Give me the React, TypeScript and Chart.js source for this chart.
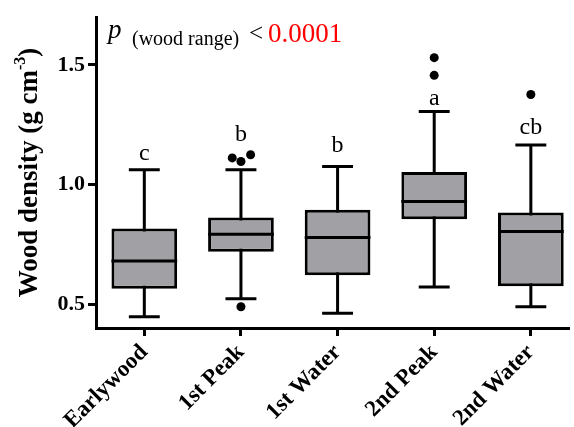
import React, { useEffect, useRef } from "react";
import { Chart, registerables } from "chart.js";

Chart.register(...registerables);

const SERIF = "'Liberation Serif', 'Times New Roman', serif";

const categories = ["Earlywood", "1st Peak", "1st Water", "2nd Peak", "2nd Water"];
const whiskerLow = [0.447, 0.522, 0.462, 0.571, 0.489];
const q1 = [0.564, 0.719, 0.62, 0.855, 0.575];
const median = [0.68, 0.792, 0.778, 0.929, 0.803];
const q3 = [0.816, 0.862, 0.894, 1.052, 0.883];
const whiskerHigh = [1.062, 1.062, 1.075, 1.305, 1.165];
const outlierX = [0.91, 1.0, 1.1, 1.0, 3.0, 3.0, 4.0];
const outlierValue = [1.111, 1.096, 1.124, 0.489, 1.53, 1.456, 1.376];
const groupLetters = ["c", "b", "b", "a", "cb"];
const letterValue = [1.101, 1.181, 1.134, 1.331, 1.21];
const yTicks = [0.5, 1.0, 1.5];

const boxPlugin = {
  id: "boxParts",
  beforeDatasetsDraw(chart: any) {
    const { ctx, scales } = chart;
    const x = scales.x;
    const y = scales.y;
    ctx.save();
    ctx.strokeStyle = "#000";
    ctx.lineWidth = 3;
    ctx.lineCap = "butt";
    categories.forEach((_, i) => {
      const px = x.getPixelForValue(i);
      const half = x.getPixelForValue(i + 0.16) - px;
      const lo = y.getPixelForValue(whiskerLow[i]);
      const hi = y.getPixelForValue(whiskerHigh[i]);
      ctx.beginPath();
      ctx.moveTo(px, lo);
      ctx.lineTo(px, hi);
      ctx.moveTo(px - half, lo);
      ctx.lineTo(px + half, lo);
      ctx.moveTo(px - half, hi);
      ctx.lineTo(px + half, hi);
      ctx.stroke();
    });
    ctx.restore();
  },
  afterDatasetsDraw(chart: any) {
    const { ctx, scales } = chart;
    const x = scales.x;
    const y = scales.y;
    const meta = chart.getDatasetMeta(0);
    ctx.save();
    ctx.strokeStyle = "#000";
    ctx.lineWidth = 3;
    categories.forEach((_, i) => {
      const bar = meta.data[i];
      const half = bar.width / 2;
      const px = x.getPixelForValue(i);
      const my = y.getPixelForValue(median[i]);
      ctx.beginPath();
      ctx.moveTo(px - half, my);
      ctx.lineTo(px + half, my);
      ctx.stroke();
    });
    ctx.fillStyle = "#000";
    ctx.font = `24px ${SERIF}`;
    ctx.textAlign = "center";
    ctx.textBaseline = "alphabetic";
    groupLetters.forEach((t, i) => {
      ctx.fillText(t, x.getPixelForValue(i), y.getPixelForValue(letterValue[i]));
    });
    ctx.restore();
  },
  afterDraw(chart: any) {
    const { ctx, chartArea } = chart;
    ctx.save();
    ctx.fillStyle = "#000";
    ctx.textAlign = "left";
    ctx.textBaseline = "alphabetic";
    // y axis title with superscript
    ctx.translate(37, (chartArea.top + chartArea.bottom) / 2);
    ctx.rotate(-Math.PI / 2);
    const main = "Wood density (g cm";
    ctx.font = `bold 27px ${SERIF}`;
    const w1 = ctx.measureText(main).width;
    ctx.font = `bold 16px ${SERIF}`;
    const w2 = ctx.measureText("-3").width;
    ctx.font = `bold 27px ${SERIF}`;
    const w3 = ctx.measureText(")").width;
    let x0 = -(w1 + w2 + w3) / 2;
    ctx.fillText(main, x0, 0);
    x0 += w1;
    ctx.font = `bold 16px ${SERIF}`;
    ctx.fillText("-3", x0, -12);
    x0 += w2;
    ctx.font = `bold 27px ${SERIF}`;
    ctx.fillText(")", x0, 0);
    ctx.restore();

    // p-value annotation
    ctx.save();
    ctx.textAlign = "left";
    ctx.textBaseline = "alphabetic";
    ctx.fillStyle = "#000";
    ctx.font = `italic 27px ${SERIF}`;
    ctx.fillText("p", 108, 38);
    ctx.font = `20px ${SERIF}`;
    ctx.fillText("(wood range)", 132, 45);
    ctx.font = `25px ${SERIF}`;
    ctx.fillText("<", 249, 41);
    ctx.fillStyle = "#ff0000";
    ctx.font = `27px ${SERIF}`;
    ctx.fillText("0.0001", 268, 42);
    ctx.restore();
  },
};

export default function App() {
  const ref = useRef<HTMLCanvasElement | null>(null);
  useEffect(() => {
    if (!ref.current) return;
    const chart = new Chart(ref.current, {
      type: "bar",
      data: {
        datasets: [
          {
            type: "bar",
            data: categories.map((_, i) => ({ x: i, y: [q1[i], q3[i]] })) as any,
            backgroundColor: "#a1a1a5",
            borderColor: "#000",
            borderWidth: 3,
            borderSkipped: false,
            barPercentage: 0.68,
            categoryPercentage: 1,
          } as any,
          {
            type: "scatter",
            data: outlierX.map((v, i) => ({ x: v, y: outlierValue[i] })),
            backgroundColor: "#000",
            borderWidth: 0,
            pointRadius: 4.5,
          } as any,
        ],
      },
      options: {
        responsive: false,
        animation: false,
        events: [],
        layout: { padding: { top: 17, left: 0, right: 0, bottom: 0 } },
        plugins: { legend: { display: false }, tooltip: { enabled: false } },
        scales: {
          x: {
            type: "linear",
            offset: false,
            min: -0.5,
            max: 4.4,
            afterBuildTicks: (s: any) => {
              s.ticks = categories.map((_, i) => ({ value: i }));
            },
            afterFit: (s: any) => {
              s.height = 99;
              s.paddingLeft = 0;
              s.paddingRight = 0;
            },
            ticks: {
              autoSkip: false,
              minRotation: 45,
              maxRotation: 45,
              color: "#000",
              padding: 3,
              font: { family: SERIF, size: 23, weight: "bold" },
              callback: (v: any) => categories[Math.round(Number(v))] ?? "",
            },
            grid: {
              offset: false,
              drawOnChartArea: false,
              drawTicks: true,
              tickLength: 8,
              tickWidth: 3,
              tickColor: "#000",
            },
            border: { display: true, color: "#000", width: 3 },
          },
          y: {
            type: "linear",
            min: 0.4,
            max: 1.7,
            afterBuildTicks: (s: any) => {
              s.ticks = yTicks.map((v) => ({ value: v }));
            },
            afterFit: (s: any) => {
              s.width = 96;
              s.paddingTop = 0;
              s.paddingBottom = 0;
            },
            ticks: {
              color: "#000",
              padding: 3,
              font: { family: SERIF, size: 22, weight: "bold" },
              callback: (v: any) => Number(v).toFixed(1),
            },
            grid: {
              drawOnChartArea: false,
              drawTicks: true,
              tickLength: 8,
              tickWidth: 3,
              tickColor: "#000",
            },
            border: { display: true, color: "#000", width: 3 },
          },
        },
      } as any,
      plugins: [boxPlugin],
    });
    return () => chart.destroy();
  }, []);
  return (
    <div style={{ position: "fixed", left: 0, top: 0, width: 574, height: 427, background: "#fff" }}>
      <canvas ref={ref} width={574} height={427} />
    </div>
  );
}
